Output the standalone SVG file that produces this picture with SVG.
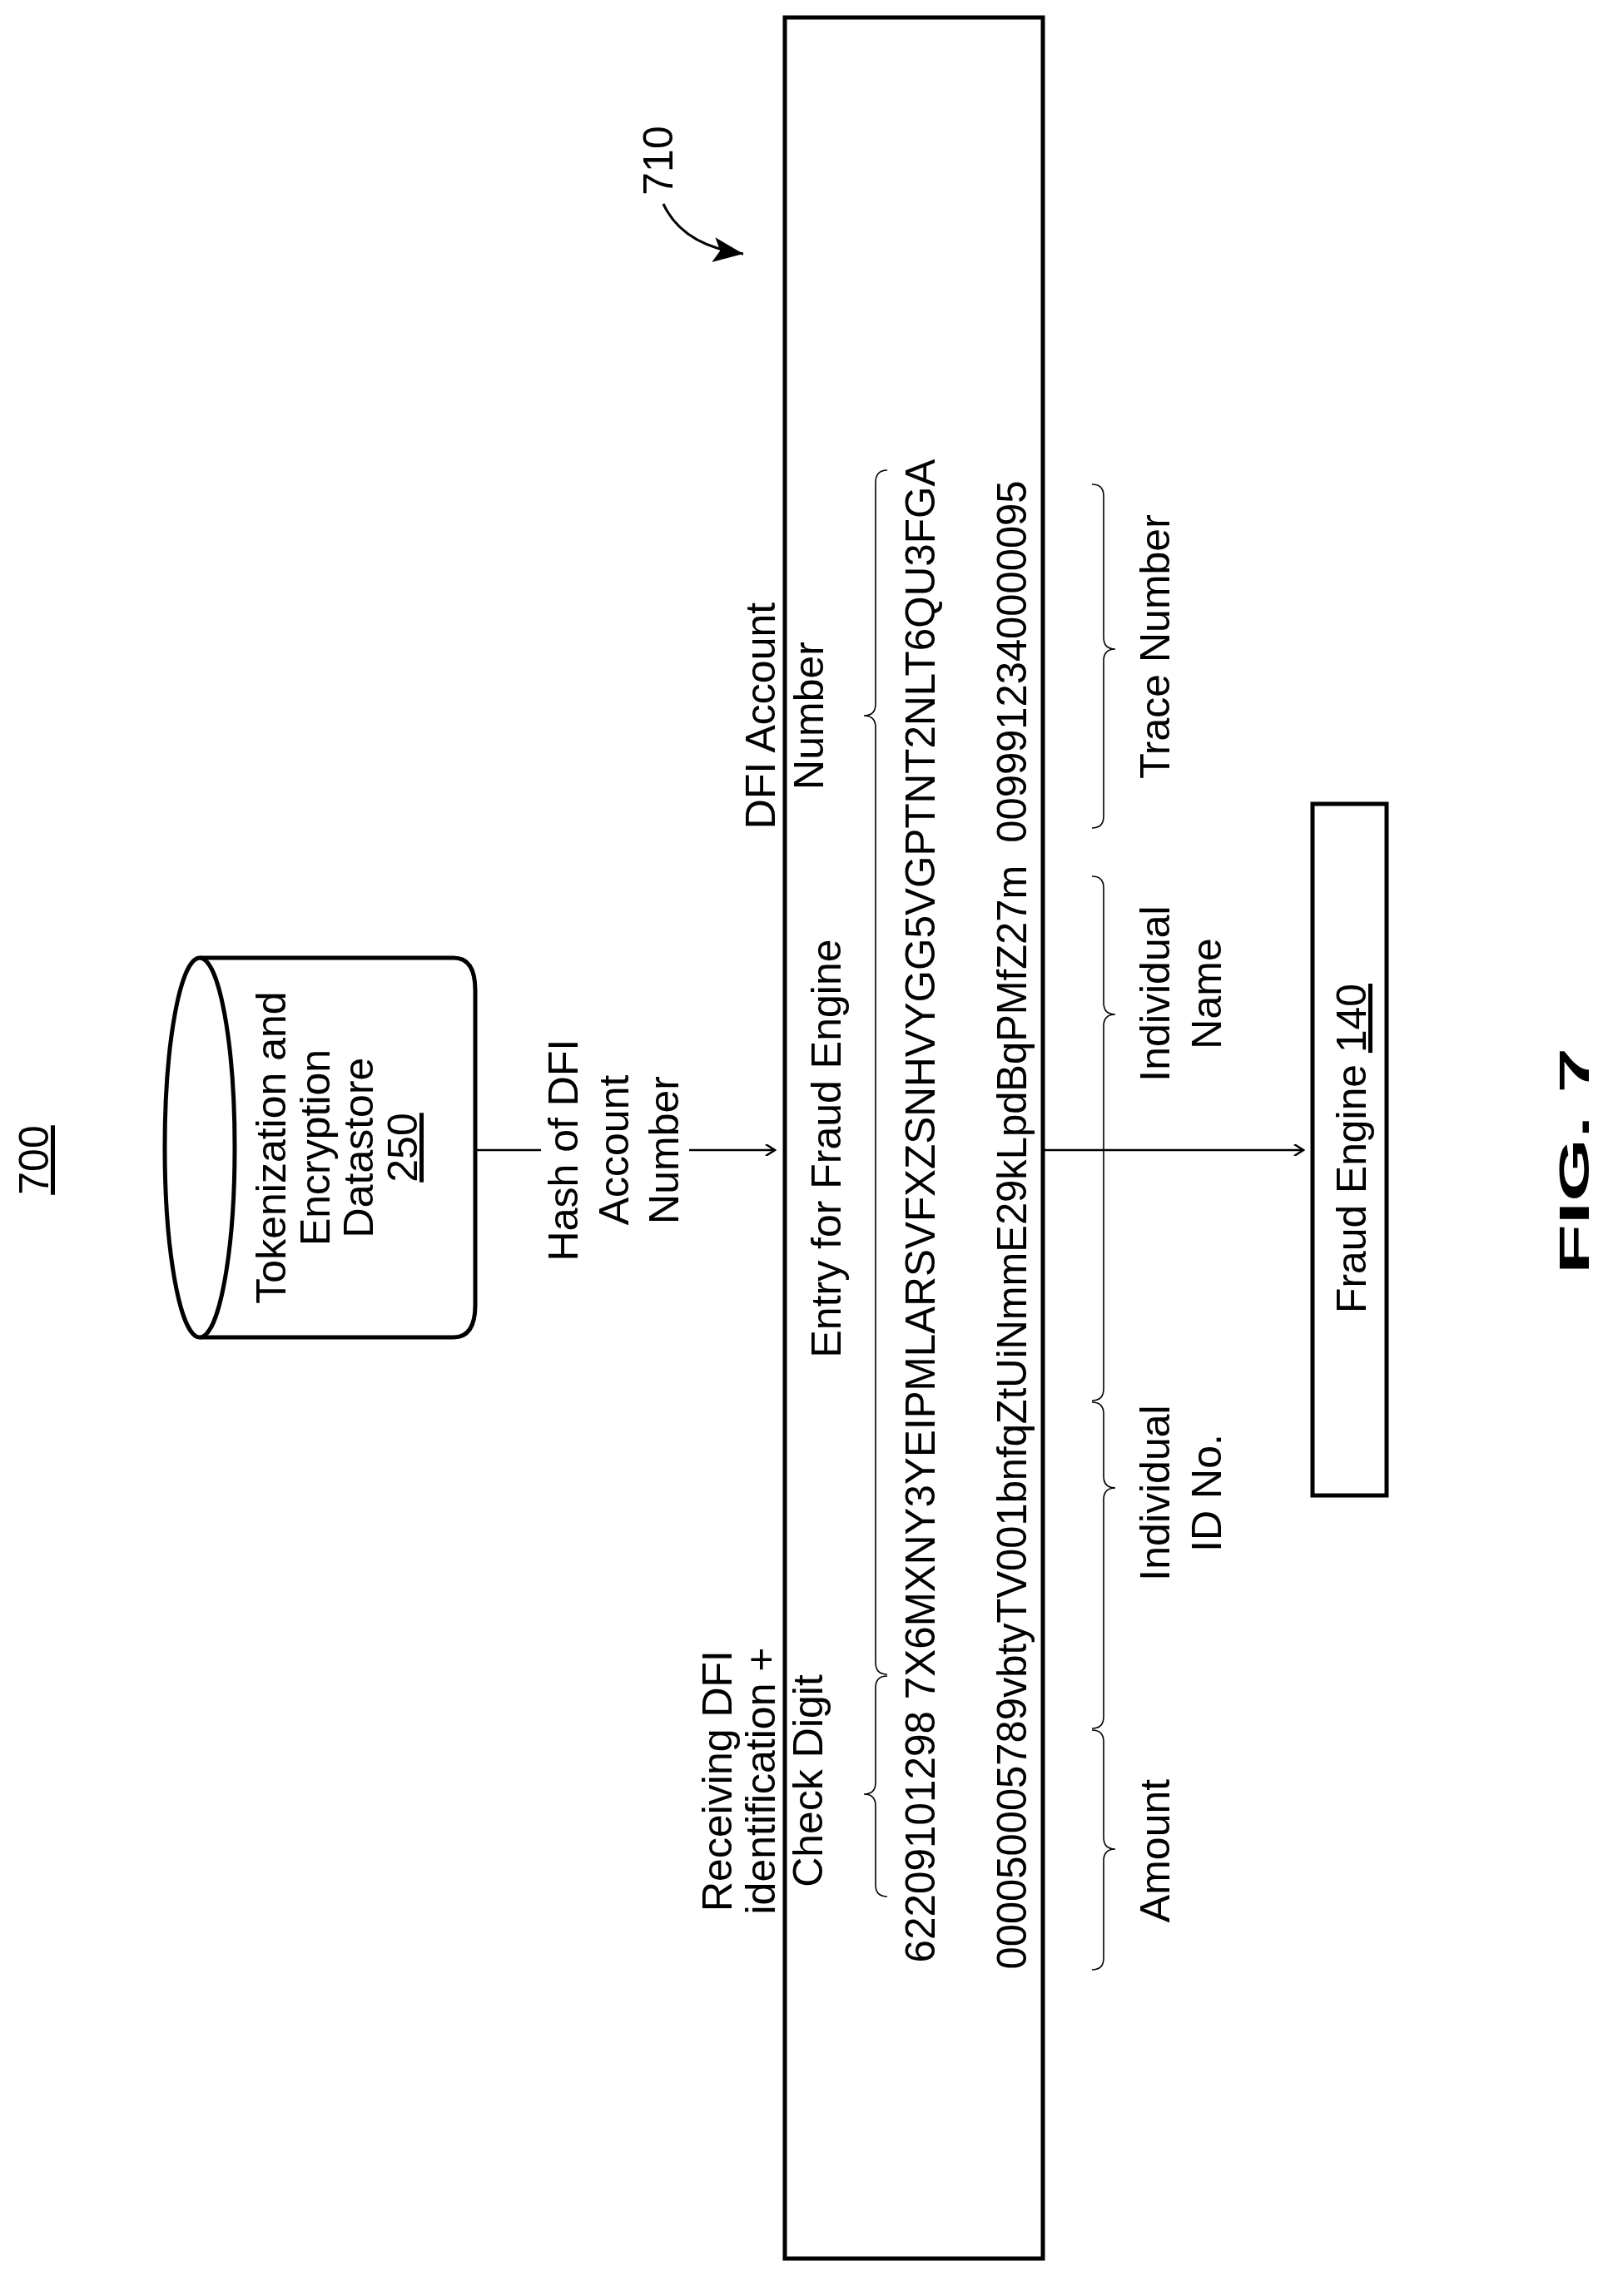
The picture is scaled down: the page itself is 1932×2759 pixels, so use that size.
<svg xmlns="http://www.w3.org/2000/svg" width="1932" height="2759" viewBox="0 0 1932 2759">
<style>
text{font-family:"Liberation Sans",Arial,sans-serif;font-size:50px;fill:#000;text-anchor:middle}
.n{font-family:"Liberation Sans Narrow","Liberation Sans",Arial,sans-serif}
.b{fill:none;stroke:#000;stroke-width:1.6}
.w{fill:#fff;stroke:#000;stroke-width:5}
.c{fill:none;stroke:#000;stroke-width:2.5}
</style>
<defs>
<marker id="oa" markerWidth="14" markerHeight="14" refX="12" refY="7" orient="auto" markerUnits="userSpaceOnUse"><path d="M1,0 L12,7 L1,14" fill="none" stroke="#000" stroke-width="2.5"/></marker>
<marker id="fa" markerWidth="40" markerHeight="30" refX="36" refY="15" orient="auto" markerUnits="userSpaceOnUse"><path d="M0,0 L36,15 L0,30 L8,15 Z" fill="#000"/></marker>
</defs>
<text transform="translate(58,1394) rotate(-90)" font-size="54" text-decoration="underline">700</text>
<g id="ref710">
<text transform="translate(808,193) rotate(-90)" font-size="48">710</text>
<path d="M797,245 Q820,295 893,305" fill="none" stroke="#000" stroke-width="3" marker-end="url(#fa)"/>
</g>
<g id="datastore">
<path class="w" d="M240,1151 L545,1151 Q571,1151 571,1190 L571,1568 Q571,1607 545,1607 L240,1607"/>
<ellipse class="w" cx="240" cy="1379" rx="42" ry="228"/>
<text transform="translate(343,1379) rotate(-90)">Tokenization and</text>
<text transform="translate(396,1379) rotate(-90)">Encryption</text>
<text transform="translate(448,1379) rotate(-90)">Datastore</text>
<text transform="translate(501,1379) rotate(-90)" text-decoration="underline">250</text>
</g>
<g id="hashlabel">
<text transform="translate(694,1382) rotate(-90)">Hash of DFI</text>
<text transform="translate(755,1382) rotate(-90)">Account</text>
<text transform="translate(815,1382) rotate(-90)">Number</text>
</g>
<g id="entry710">
<rect class="w" x="943" y="21" width="310" height="2693"/>
<text transform="translate(1010,1380) rotate(-90)">Entry for Fraud Engine</text>
<text transform="translate(931,860) rotate(-90)">DFI Account</text>
<text transform="translate(989,860) rotate(-90)">Number</text>
<text transform="translate(879,2140) rotate(-90)">Receiving DFI</text>
<text transform="translate(931,2140) rotate(-90)">identification +</text>
<text transform="translate(988,2140) rotate(-90)">Check Digit</text>
<text transform="translate(1123,1455) rotate(-90)" textLength="1807" lengthAdjust="spacingAndGlyphs">62209101298 7X6MXNY3YEIPMLARSVFXZSNHVYGG5VGPTNT2NLT6QU3FGA</text>
<text transform="translate(1233,1472) rotate(-90)" textLength="1789" lengthAdjust="spacingAndGlyphs" xml:space="preserve">000050005789vbtyTV001bnfqZtUiNmmE29kLpdBqPMfZ27m  0099912340000095</text>
<path class="b" d="M1066,565 Q1052,565 1052,580 L1052,846 Q1052,860 1038,860 Q1052,860 1052,874 L1052,1998 Q1052,2012 1066,2012"/>
<path class="b" d="M1066,2014 Q1052,2014 1052,2028 L1052,2142 Q1052,2156 1038,2156 Q1052,2156 1052,2170 L1052,2265 Q1052,2279 1066,2279"/>
</g>
<g id="fields">
<path class="b" d="M1312,582 Q1326,582 1326,596 L1326,766 Q1326,780 1340,780 Q1326,780 1326,794 L1326,981 Q1326,995 1312,995"/>
<path class="b" d="M1312,1053 Q1326,1053 1326,1067 L1326,1205 Q1326,1219 1340,1219 Q1326,1219 1326,1233 L1326,1669 Q1326,1683 1312,1683"/>
<path class="b" d="M1312,1685 Q1326,1685 1326,1699 L1326,1774 Q1326,1788 1340,1788 Q1326,1788 1326,1802 L1326,2063 Q1326,2077 1312,2077"/>
<path class="b" d="M1312,2079 Q1326,2079 1326,2093 L1326,2208 Q1326,2222 1340,2222 Q1326,2222 1326,2236 L1326,2353 Q1326,2367 1312,2367"/>
<text transform="translate(1405,777) rotate(-90)">Trace Number</text>
<text transform="translate(1405,1194) rotate(-90)">Individual</text>
<text transform="translate(1467,1194) rotate(-90)">Name</text>
<text transform="translate(1405,1794) rotate(-90)">Individual</text>
<text transform="translate(1467,1794) rotate(-90)">ID No.</text>
<text transform="translate(1405,2224) rotate(-90)">Amount</text>
</g>
<g id="fraudengine">
<rect class="w" x="1577" y="966" width="89" height="831" stroke-width="6"/>
<text class="n" transform="translate(1641,1380) rotate(-90)" font-size="54" textLength="396" lengthAdjust="spacingAndGlyphs">Fraud Engine <tspan text-decoration="underline">140</tspan></text>
</g>
<text class="n" transform="translate(1909,1395) rotate(-90)" font-size="104" font-weight="bold" textLength="272" lengthAdjust="spacingAndGlyphs">FIG. 7</text>
<g id="connectors">
<path class="c" d="M571,1382 L650,1382"/>
<path class="c" d="M828,1382 L931,1382" marker-end="url(#oa)"/>
<path class="c" d="M1253,1382 L1566,1382" marker-end="url(#oa)"/>
</g>
</svg>
